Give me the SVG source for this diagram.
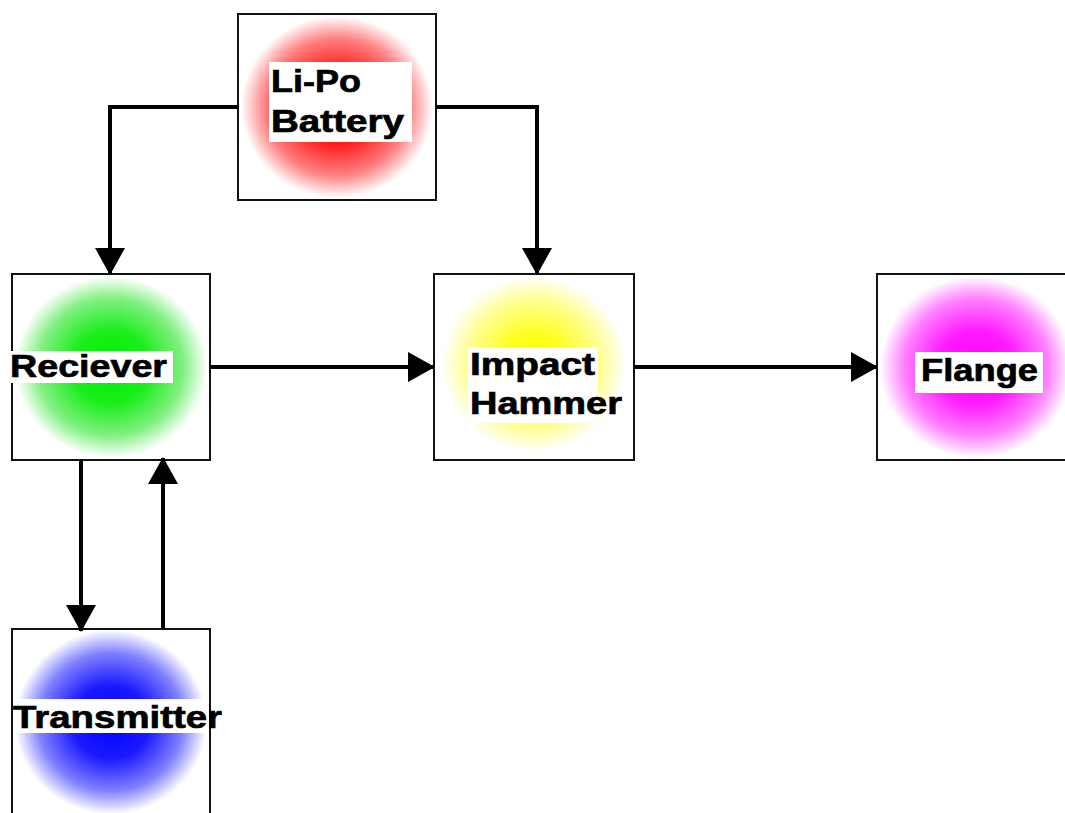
<svg xmlns="http://www.w3.org/2000/svg" width="1065" height="813" viewBox="0 0 1065 813">
<style>
.box{stroke:#111;stroke-width:2;fill:none}
.lbl{fill:#fff}
.t{font-family:"Liberation Sans",Arial,sans-serif;font-weight:bold;font-size:32px;fill:#000;stroke:#000;stroke-width:0.7}
.c{fill:none;stroke:#000;stroke-width:4}
</style>
<defs>
<radialGradient id="gr" cx="0.5" cy="0.5" r="0.5"><stop offset="0" stop-color="#ff0000"/><stop offset="0.4" stop-color="#ff1a1a"/><stop offset="0.75" stop-color="#ff8080"/><stop offset="1" stop-color="#fff"/></radialGradient>
<radialGradient id="gg" cx="0.5" cy="0.5" r="0.5"><stop offset="0" stop-color="#00ee00"/><stop offset="0.4" stop-color="#1aee1a"/><stop offset="0.75" stop-color="#80f080"/><stop offset="1" stop-color="#fff"/></radialGradient>
<radialGradient id="gy" cx="0.5" cy="0.5" r="0.5"><stop offset="0" stop-color="#ffff00"/><stop offset="0.35" stop-color="#ffff20"/><stop offset="0.72" stop-color="#ffff90"/><stop offset="1" stop-color="#fff"/></radialGradient>
<radialGradient id="gm" cx="0.5" cy="0.5" r="0.5"><stop offset="0" stop-color="#ff00ff"/><stop offset="0.4" stop-color="#ff1aff"/><stop offset="0.75" stop-color="#ff80ff"/><stop offset="1" stop-color="#fff"/></radialGradient>
<radialGradient id="gb" cx="0.5" cy="0.5" r="0.5"><stop offset="0" stop-color="#0000ff"/><stop offset="0.4" stop-color="#1a1aff"/><stop offset="0.75" stop-color="#8080ff"/><stop offset="1" stop-color="#fff"/></radialGradient>
<marker id="ah" markerUnits="userSpaceOnUse" markerWidth="27" markerHeight="30" refX="26" refY="15" orient="auto"><path d="M0,0 L27,15 L0,30 Z" fill="#000"/></marker>
</defs>
<rect width="1065" height="813" fill="#fff"/>

<g id="battery">
<ellipse cx="337" cy="107" rx="96" ry="91" fill="url(#gr)"/>
<rect class="box" x="238" y="14" width="198" height="186"/>
<rect class="lbl" x="269" y="62" width="143" height="80"/>
<text class="t" x="271" y="92" textLength="90" lengthAdjust="spacingAndGlyphs">Li-Po</text>
<text class="t" x="271" y="132" textLength="133" lengthAdjust="spacingAndGlyphs">Battery</text>
</g>

<g id="receiver">
<ellipse cx="111" cy="367" rx="96" ry="91" fill="url(#gg)"/>
<rect class="box" x="12" y="274" width="198" height="186"/>
<rect class="lbl" x="9" y="351" width="164" height="32"/>
<text class="t" x="10" y="377" textLength="157" lengthAdjust="spacingAndGlyphs">Reciever</text>
</g>

<g id="impact">
<ellipse cx="534" cy="364" rx="92" ry="88" fill="url(#gy)"/>
<rect class="box" x="434" y="274" width="200" height="186"/>
<rect class="lbl" x="468" y="347" width="130" height="76"/>
<text class="t" x="470" y="375" textLength="125" lengthAdjust="spacingAndGlyphs">Impact</text>
<text class="t" x="470" y="414" textLength="152" lengthAdjust="spacingAndGlyphs">Hammer</text>
</g>

<g id="flange">
<ellipse cx="976" cy="367" rx="96" ry="91" fill="url(#gm)"/>
<rect class="box" x="877" y="274" width="200" height="186"/>
<rect class="lbl" x="915" y="352" width="128" height="41"/>
<text class="t" x="921" y="381" textLength="117" lengthAdjust="spacingAndGlyphs">Flange</text>
</g>

<g id="transmitter">
<ellipse cx="111" cy="722" rx="96" ry="92" fill="url(#gb)"/>
<rect class="box" x="12" y="629" width="198" height="200"/>
<rect class="lbl" x="13" y="699" width="196" height="34"/>
<text class="t" x="13" y="728" textLength="209" lengthAdjust="spacingAndGlyphs">Transmitter</text>
</g>

<g id="connectors">
<path class="c" d="M238,107 H110 V274" marker-end="url(#ah)"/>
<path class="c" d="M436,107 H537 V274" marker-end="url(#ah)"/>
<path class="c" d="M210,367 H434" marker-end="url(#ah)"/>
<path class="c" d="M634,367 H877" marker-end="url(#ah)"/>
<path class="c" d="M81,460 V631" marker-end="url(#ah)"/>
<path class="c" d="M163,629 V458" marker-end="url(#ah)"/>
</g>
</svg>
